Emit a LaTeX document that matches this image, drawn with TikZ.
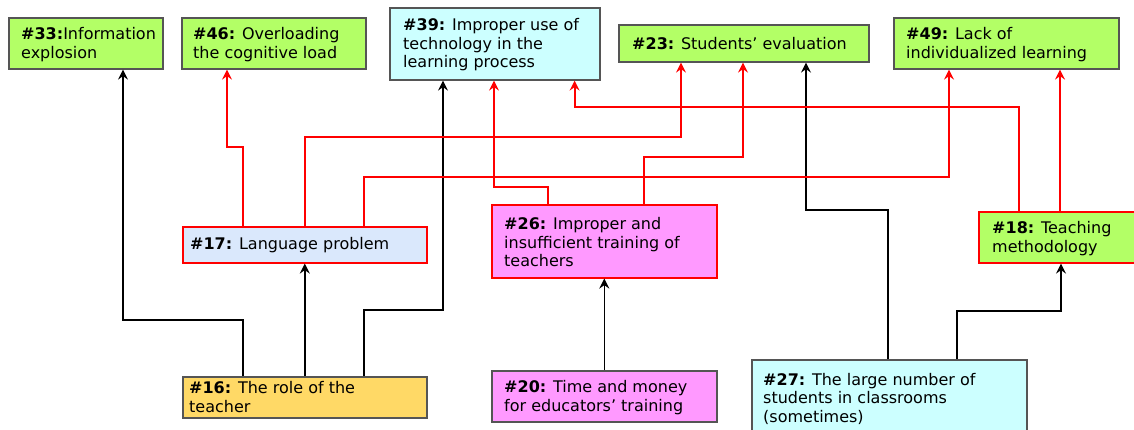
\documentclass[tikz,border=0pt]{standalone}
\usepackage{fontspec}
\setmainfont{DejaVu Sans}
\usetikzlibrary{arrows.meta}

\definecolor{boxgreen}{HTML}{B3FF66}
\definecolor{boxcyan}{HTML}{CCFFFF}
\definecolor{boxblue}{HTML}{DAE8FC}
\definecolor{boxyellow}{HTML}{FFD966}
\definecolor{boxpink}{HTML}{FF99FF}
\definecolor{boxgray}{HTML}{555555}

\begin{document}
\begin{tikzpicture}[
		x=1pt, y=-1pt,
		box/.style  = {rectangle, draw=boxgray, line width=1.6pt, inner sep=0pt},
		rbox/.style = {box, draw=red},
		txt/.style  = {anchor=west, align=left, inner sep=0pt,
		               font=\fontsize{16}{18.6}\selectfont},
		blk/.style  = {line width=1.6pt, -{Stealth[length=10pt, width=10pt, inset=3.5pt]}},
		redc/.style = {blk, draw=red, line width=2pt}
		]
		\useasboundingbox (0,0) rectangle (1134,429);
		\clip (0,0) rectangle (1134,429);
		
		% Top row
		\node[box, fill=boxgreen, minimum width=154pt, minimum height=51pt, anchor=north west] (n33) at (8,17) {};
		\node[box, fill=boxgreen, minimum width=184pt, minimum height=51pt, anchor=north west] (n46) at (181,17) {};
		\node[box, fill=boxcyan, minimum width=210pt, minimum height=72pt, anchor=north west] (n39) at (389,7) {};
		\node[box, fill=boxgreen, minimum width=250pt, minimum height=37pt, anchor=north west] (n23) at (618,24) {};
		\node[box, fill=boxgreen, minimum width=225pt, minimum height=51pt, anchor=north west] (n49) at (893,17) {};
		
		% Middle row
		\node[rbox, fill=boxblue, minimum width=244pt, minimum height=36pt, anchor=north west] (n17) at (182,226) {};
		\node[rbox, fill=boxpink, minimum width=225pt, minimum height=73pt, anchor=north west] (n26) at (491,204) {};
		\node[rbox, fill=boxgreen, minimum width=170pt, minimum height=51pt, anchor=north west] (n18) at (978,211) {};
		
		% Bottom row
		\node[box, fill=boxyellow, minimum width=244pt, minimum height=41pt, anchor=north west] (n16) at (182,376) {};
		\node[box, fill=boxpink, minimum width=225pt, minimum height=51pt, anchor=north west] (n20) at (491,370) {};
		\node[box, fill=boxcyan, minimum width=275pt, minimum height=76pt, anchor=north west] (n27) at (751,359) {};
		
		% Texts
		\node[txt] (t33) at ([xshift=13pt, yshift=-1pt]n33.west) {\textbf{\#33:}Information\\explosion};
		\node[txt] (t46) at ([xshift=12pt, yshift=-1pt]n46.west) {\textbf{\#46:} Overloading\\the cognitive load};
		\node[txt] (t39) at ([xshift=14pt, yshift=-1pt]n39.west) {\textbf{\#39:} Improper use of\\technology in the\\learning process};
		\node[txt] (t23) at ([xshift=14pt]n23.west) {\textbf{\#23:} Students’ evaluation};
		\node[txt] (t49) at ([xshift=13pt, yshift=-1pt]n49.west) {\textbf{\#49:} Lack of\\individualized learning};
		\node[txt] (t17) at ([xshift=8pt]n17.west) {\textbf{\#17:} Language problem};
		\node[txt] (t26) at ([xshift=13pt, yshift=-1pt]n26.west) {\textbf{\#26:} Improper and\\insufficient training of\\teachers};
		\node[txt] (t18) at ([xshift=14pt, yshift=-1pt]n18.west) {\textbf{\#18:} Teaching\\methodology};
		\node[txt] (t16) at ([xshift=7pt]n16.west) {\textbf{\#16:} The role of the\\teacher};
		\node[txt] (t20) at ([xshift=13pt, yshift=-1pt]n20.west) {\textbf{\#20:} Time and money\\for educators’ training};
		\node[txt] (t27) at ([xshift=12pt, yshift=-1pt]n27.west) {\textbf{\#27:} The large number of\\students in classrooms\\(sometimes)};
		
		% Black connectors
		\draw[blk] ([xshift=61pt]n16.north west) -- ++(0,-56) -| ([xshift=115pt]n33.south west);
		\draw[blk] (n16.north) -- (n17.south);
		\draw[blk] ([xshift=182pt]n16.north west) -- ++(0,-66) -| ([xshift=54pt]n39.south west);
		\draw[blk] (n20.north) -- (n26.south);
		\draw[blk] ([xshift=137pt]n27.north west) -- ++(0,-149) -| ([xshift=188pt]n23.south west);
		\draw[blk] ([xshift=206pt]n27.north west) -- ++(0,-48) -| ([xshift=83pt]n18.south west);
		
		% Red connectors
		\draw[redc] ([xshift=61pt]n17.north west) -- ++(0,-79) -| ([xshift=46pt]n46.south west);
		\draw[redc] (n17.north) -- ++(0,-89) -| ([xshift=63pt]n23.south west);
		\draw[redc] ([xshift=182pt]n17.north west) -- ++(0,-49) -| ([xshift=56pt]n49.south west);
		\draw[redc] ([xshift=57pt]n26.north west) -- ++(0,-17) -| ([xshift=105pt]n39.south west);
		\draw[redc] ([xshift=153pt]n26.north west) -- ++(0,-47) -| ([xshift=125pt]n23.south west);
		\draw[redc] ([xshift=41pt]n18.north west) -- ++(0,-104) -| ([xshift=-26pt]n39.south east);
		\draw[redc] ([xshift=82pt]n18.north west) -- ([xshift=167pt]n49.south west);
	\end{tikzpicture}
\end{document}
